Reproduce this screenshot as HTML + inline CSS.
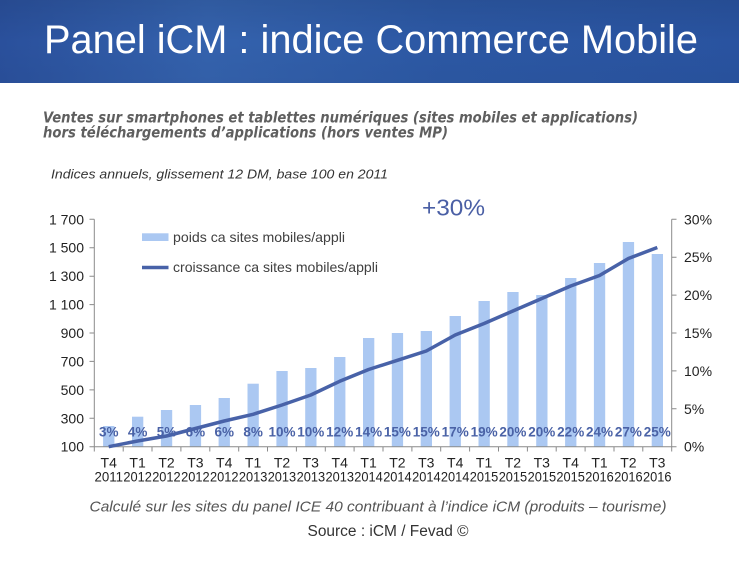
<!DOCTYPE html>
<html><head><meta charset="utf-8"><style>
html,body{margin:0;padding:0;background:#fff;}
svg{display:block;}
</style></head><body>
<svg width="739" height="561" viewBox="0 0 739 561" xmlns="http://www.w3.org/2000/svg">
<defs>
<linearGradient id="bg" x1="0" y1="0" x2="1" y2="0">
<stop offset="0" stop-color="#2a509c"/>
<stop offset="0.28" stop-color="#3462ad"/>
<stop offset="0.6" stop-color="#2c58a4"/>
<stop offset="1" stop-color="#2953a0"/>
</linearGradient>
<linearGradient id="bgv" x1="0" y1="0" x2="0" y2="1">
<stop offset="0" stop-color="#000" stop-opacity="0.08"/>
<stop offset="0.5" stop-color="#000" stop-opacity="0"/>
<stop offset="1" stop-color="#000" stop-opacity="0.03"/>
</linearGradient>
</defs>
<rect x="0" y="0" width="739" height="83" fill="url(#bg)"/>
<rect x="0" y="0" width="739" height="83" fill="url(#bgv)"/>
<text x="44" y="53" font-family="Liberation Sans, Arial, sans-serif" font-size="40" fill="#fff" textLength="654" lengthAdjust="spacingAndGlyphs">Panel iCM : indice Commerce Mobile</text>

<g font-family="DejaVu Sans, sans-serif" font-weight="bold" font-style="italic" font-size="15.5" fill="#5f5f5f">
<text x="43" y="122.5" textLength="595" lengthAdjust="spacingAndGlyphs">Ventes sur smartphones et tablettes numériques (sites mobiles et applications)</text>
<text x="43" y="137.5" textLength="405" lengthAdjust="spacingAndGlyphs">hors téléchargements d’applications (hors ventes MP)</text>
</g>
<text x="51" y="178.5" font-family="Liberation Sans, Arial, sans-serif" font-style="italic" font-size="13" fill="#333" textLength="337" lengthAdjust="spacingAndGlyphs">Indices annuels, glissement 12 DM, base 100 en 2011</text>

<text x="422" y="215.7" font-family="Liberation Sans, Arial, sans-serif" font-size="23" fill="#4a5fa5" textLength="63" lengthAdjust="spacingAndGlyphs">+30%</text>

<!-- legend -->
<rect x="142" y="233.3" width="26.5" height="7.7" fill="#abc8f2"/>
<line x1="142" y1="267.5" x2="168.5" y2="267.5" stroke="#4862a8" stroke-width="3.5"/>
<g font-family="Liberation Sans, Arial, sans-serif" font-size="14" fill="#404040">
<text x="173" y="242" textLength="172" lengthAdjust="spacingAndGlyphs">poids ca sites mobiles/appli</text>
<text x="173" y="272" textLength="205" lengthAdjust="spacingAndGlyphs">croissance ca sites mobiles/appli</text>
</g>

<!-- bars -->
<g fill="#abc8f2">
<rect x="103.1" y="426" width="11.3" height="20.7"/>
<rect x="132.0" y="416.7" width="11.3" height="30"/>
<rect x="160.9" y="410" width="11.3" height="36.7"/>
<rect x="189.8" y="405" width="11.3" height="41.7"/>
<rect x="218.6" y="398" width="11.3" height="48.7"/>
<rect x="247.5" y="383.7" width="11.3" height="63"/>
<rect x="276.4" y="371" width="11.3" height="75.7"/>
<rect x="305.2" y="368" width="11.3" height="78.7"/>
<rect x="334.1" y="357" width="11.3" height="89.7"/>
<rect x="363.0" y="338" width="11.3" height="108.7"/>
<rect x="391.8" y="333" width="11.3" height="113.7"/>
<rect x="420.7" y="331" width="11.3" height="115.7"/>
<rect x="449.6" y="316" width="11.3" height="130.7"/>
<rect x="478.5" y="301" width="11.3" height="145.7"/>
<rect x="507.3" y="292" width="11.3" height="154.7"/>
<rect x="536.2" y="295" width="11.3" height="151.7"/>
<rect x="565.1" y="278" width="11.3" height="168.7"/>
<rect x="593.9" y="263" width="11.3" height="183.7"/>
<rect x="622.8" y="242" width="11.3" height="204.7"/>
<rect x="651.7" y="254" width="11.3" height="192.7"/>
</g>

<!-- axes -->
<g stroke="#8a8a8a" stroke-width="1" fill="none">
<line x1="94.3" y1="219.3" x2="94.3" y2="446.7"/>
<line x1="671.7" y1="219.3" x2="671.7" y2="446.7"/>
<line x1="94.3" y1="446.7" x2="671.7" y2="446.7"/>
<path d="M89.5 446.7H94.3M89.5 418.3H94.3M89.5 389.9H94.3M89.5 361.4H94.3M89.5 333H94.3M89.5 304.6H94.3M89.5 276.2H94.3M89.5 247.7H94.3M89.5 219.3H94.3"/>
<path d="M671.7 446.7H676.5M671.7 408.8H676.5M671.7 370.9H676.5M671.7 333H676.5M671.7 295.1H676.5M671.7 257.2H676.5M671.7 219.3H676.5"/>
<path d="M94.3 446.7V451.5M123.2 446.7V451.5M152 446.7V451.5M180.9 446.7V451.5M209.8 446.7V451.5M238.7 446.7V451.5M267.5 446.7V451.5M296.4 446.7V451.5M325.3 446.7V451.5M354.1 446.7V451.5M383 446.7V451.5M411.9 446.7V451.5M440.7 446.7V451.5M469.6 446.7V451.5M498.5 446.7V451.5M527.4 446.7V451.5M556.2 446.7V451.5M585.1 446.7V451.5M614 446.7V451.5M642.8 446.7V451.5M671.7 446.7V451.5"/>
</g>

<!-- left axis labels -->
<g font-family="Liberation Sans, Arial, sans-serif" font-size="14" fill="#222" text-anchor="end">
<text x="84" y="451.7">100</text>
<text x="84" y="423.3">300</text>
<text x="84" y="394.9">500</text>
<text x="84" y="366.4">700</text>
<text x="84" y="338">900</text>
<text x="84" y="309.6">1 100</text>
<text x="84" y="281.2">1 300</text>
<text x="84" y="252.7">1 500</text>
<text x="84" y="224.3">1 700</text>
</g>
<g font-family="Liberation Sans, Arial, sans-serif" font-size="14" fill="#222">
<text x="684" y="451.7">0%</text>
<text x="684" y="413.8">5%</text>
<text x="684" y="375.9">10%</text>
<text x="684" y="338">15%</text>
<text x="684" y="300.1">20%</text>
<text x="684" y="262.2">25%</text>
<text x="684" y="224.3">30%</text>
</g>

<!-- data labels -->
<g font-family="Liberation Sans, Arial, sans-serif" font-size="13.5" font-weight="bold" fill="#4a62a6" text-anchor="middle">
<text x="108.7" y="436.7">3%</text>
<text x="137.6" y="436.7">4%</text>
<text x="166.5" y="436.7">5%</text>
<text x="195.4" y="436.7">6%</text>
<text x="224.2" y="436.7">6%</text>
<text x="253.1" y="436.7">8%</text>
<text x="282" y="436.7">10%</text>
<text x="310.8" y="436.7">10%</text>
<text x="339.7" y="436.7">12%</text>
<text x="368.6" y="436.7">14%</text>
<text x="397.4" y="436.7">15%</text>
<text x="426.3" y="436.7">15%</text>
<text x="455.2" y="436.7">17%</text>
<text x="484.1" y="436.7">19%</text>
<text x="512.9" y="436.7">20%</text>
<text x="541.8" y="436.7">20%</text>
<text x="570.7" y="436.7">22%</text>
<text x="599.5" y="436.7">24%</text>
<text x="628.4" y="436.7">27%</text>
<text x="657.3" y="436.7">25%</text>
</g>

<!-- line -->
<polyline fill="none" stroke="#4862a8" stroke-width="3.5" stroke-linejoin="round" stroke-linecap="butt"
points="108.7,446.7 137.6,441 166.5,436 195.4,428.5 224.2,421 253.1,414.3 282,405 310.8,395 339.7,381.3 368.6,369.5 397.4,360.3 426.3,351 455.2,335 484.1,323.5 512.9,311 541.8,298.5 570.7,286 599.5,275.5 628.4,258.5 657.3,247.5"/>

<!-- x labels -->
<g font-family="Liberation Sans, Arial, sans-serif" font-size="14" fill="#222" text-anchor="middle">
<text x="108.7" y="467.3">T4</text><text x="137.6" y="467.3">T1</text><text x="166.5" y="467.3">T2</text><text x="195.4" y="467.3">T3</text><text x="224.2" y="467.3">T4</text>
<text x="253.1" y="467.3">T1</text><text x="282" y="467.3">T2</text><text x="310.8" y="467.3">T3</text><text x="339.7" y="467.3">T4</text>
<text x="368.6" y="467.3">T1</text><text x="397.4" y="467.3">T2</text><text x="426.3" y="467.3">T3</text><text x="455.2" y="467.3">T4</text>
<text x="484.1" y="467.3">T1</text><text x="512.9" y="467.3">T2</text><text x="541.8" y="467.3">T3</text><text x="570.7" y="467.3">T4</text>
<text x="599.5" y="467.3">T1</text><text x="628.4" y="467.3">T2</text><text x="657.3" y="467.3">T3</text>
</g>
<g font-family="Liberation Sans, Arial, sans-serif" font-size="14" fill="#222">
<text x="94.5" y="481.7" textLength="28.5" lengthAdjust="spacingAndGlyphs">2011</text>
<text x="123.4" y="481.7" textLength="28.5" lengthAdjust="spacingAndGlyphs">2012</text>
<text x="152.2" y="481.7" textLength="28.5" lengthAdjust="spacingAndGlyphs">2012</text>
<text x="181.1" y="481.7" textLength="28.5" lengthAdjust="spacingAndGlyphs">2012</text>
<text x="210" y="481.7" textLength="28.5" lengthAdjust="spacingAndGlyphs">2012</text>
<text x="238.9" y="481.7" textLength="28.5" lengthAdjust="spacingAndGlyphs">2013</text>
<text x="267.7" y="481.7" textLength="28.5" lengthAdjust="spacingAndGlyphs">2013</text>
<text x="296.6" y="481.7" textLength="28.5" lengthAdjust="spacingAndGlyphs">2013</text>
<text x="325.5" y="481.7" textLength="28.5" lengthAdjust="spacingAndGlyphs">2013</text>
<text x="354.3" y="481.7" textLength="28.5" lengthAdjust="spacingAndGlyphs">2014</text>
<text x="383.2" y="481.7" textLength="28.5" lengthAdjust="spacingAndGlyphs">2014</text>
<text x="412.1" y="481.7" textLength="28.5" lengthAdjust="spacingAndGlyphs">2014</text>
<text x="440.9" y="481.7" textLength="28.5" lengthAdjust="spacingAndGlyphs">2014</text>
<text x="469.8" y="481.7" textLength="28.5" lengthAdjust="spacingAndGlyphs">2015</text>
<text x="498.7" y="481.7" textLength="28.5" lengthAdjust="spacingAndGlyphs">2015</text>
<text x="527.6" y="481.7" textLength="28.5" lengthAdjust="spacingAndGlyphs">2015</text>
<text x="556.4" y="481.7" textLength="28.5" lengthAdjust="spacingAndGlyphs">2015</text>
<text x="585.3" y="481.7" textLength="28.5" lengthAdjust="spacingAndGlyphs">2016</text>
<text x="614.2" y="481.7" textLength="28.5" lengthAdjust="spacingAndGlyphs">2016</text>
<text x="643" y="481.7" textLength="28.5" lengthAdjust="spacingAndGlyphs">2016</text>
</g>

<!-- footer -->
<text x="89.5" y="511.7" font-family="Liberation Sans, Arial, sans-serif" font-style="italic" font-size="14.5" fill="#555" textLength="577" lengthAdjust="spacingAndGlyphs">Calculé sur les sites du panel ICE 40 contribuant à l’indice iCM (produits – tourisme)</text>
<text x="307.5" y="536" font-family="Liberation Sans, Arial, sans-serif" font-size="15.5" fill="#333" textLength="161" lengthAdjust="spacingAndGlyphs">Source : iCM / Fevad ©</text>
</svg>
</body></html>
